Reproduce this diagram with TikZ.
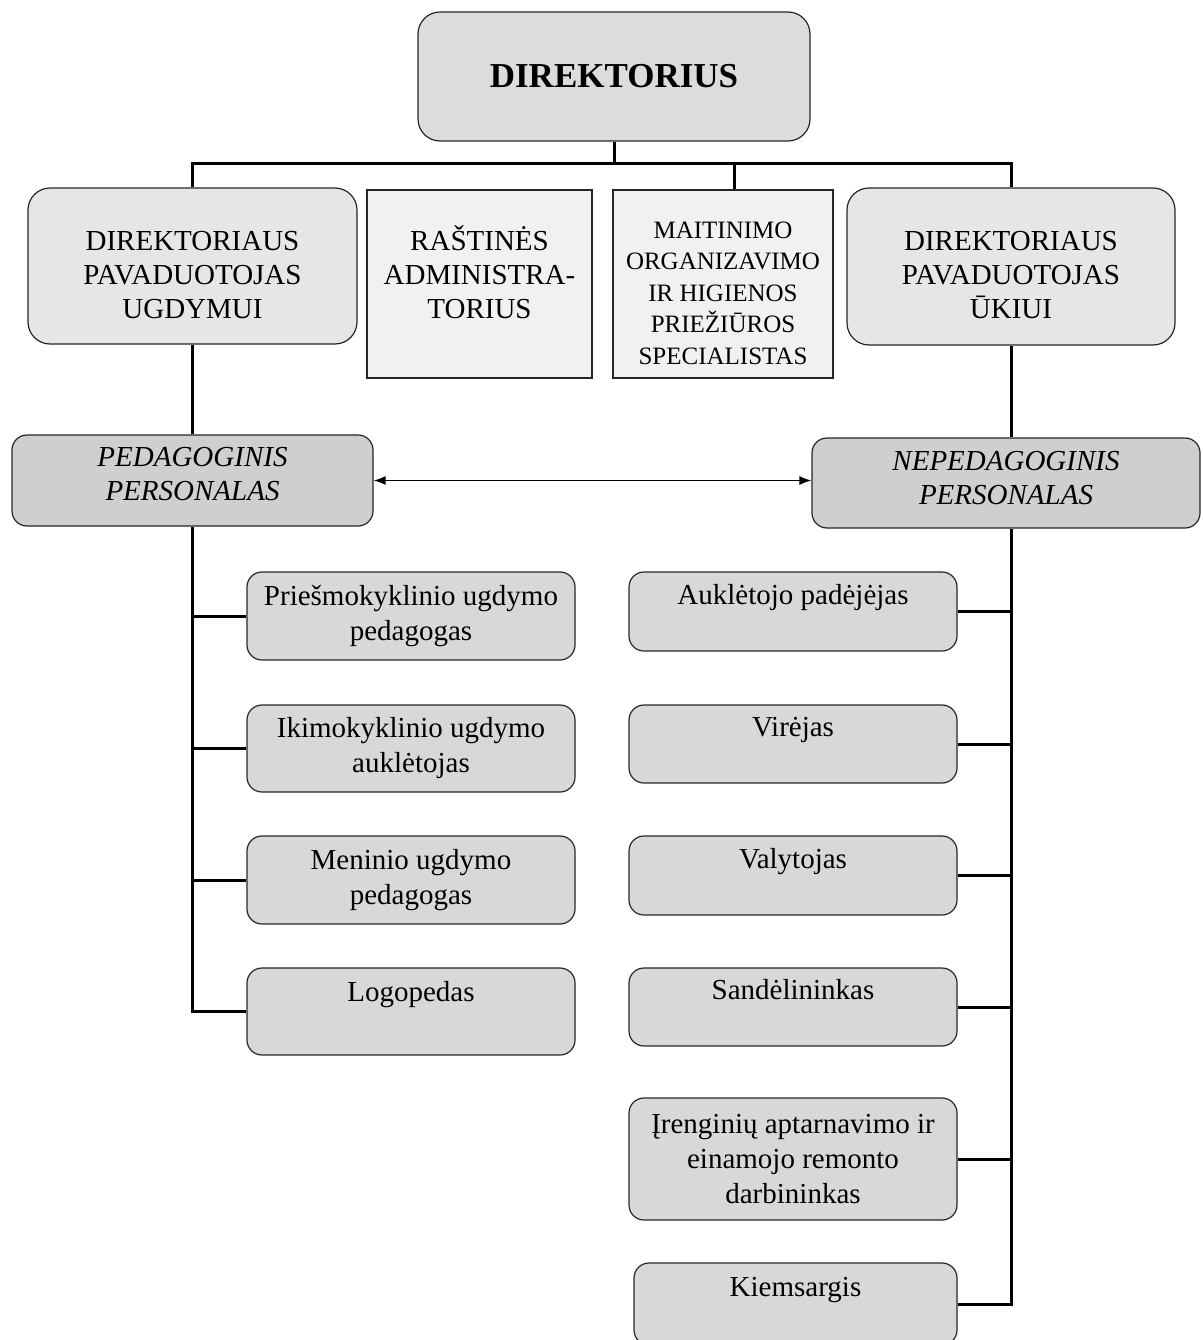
\documentclass[tikz,border=0pt]{standalone}
\usepackage{fontspec}
\setmainfont{Liberation Serif}
\usetikzlibrary{arrows.meta}
\definecolor{dirfill}{HTML}{DCDCDC}
\definecolor{topfill}{HTML}{E6E6E6}
\definecolor{rectfill}{HTML}{F1F1F1}
\definecolor{persfill}{HTML}{CFCFCF}
\definecolor{jobfill}{HTML}{D8D8D8}
\tikzset{
  box/.style={draw=black!85, line width=1.2pt, inner sep=0pt, align=center,
              font=\fontsize{29}{34}\selectfont},
  rbox/.style={box, rounded corners=22pt, fill=topfill},
  sbox/.style={box, fill=rectfill},
  pbox/.style={box, rounded corners=15pt, fill=persfill,
               font=\fontsize{29}{34}\selectfont\itshape},
  jobbox/.style={box, rounded corners=15pt, fill=jobfill, minimum width=328pt,
                 font=\fontsize{29}{35}\selectfont},
  oneline/.style={text height=20pt, text depth=#1},
  oneline/.default=35pt,
  lift/.style={text height=#1, text depth=0pt},
  conn/.style={line width=3pt},
}
\begin{document}
\begin{tikzpicture}[x=1pt,y=-1pt]
\useasboundingbox (0,0) rectangle (1202,1340);
% top level
\node[rbox, fill=dirfill, minimum width=392pt, minimum height=129pt,
      font=\fontsize{35}{40}\selectfont\bfseries] (dir) at (614,76.5) {DIREKTORIUS};
\node[rbox, minimum width=329pt, minimum height=156pt, lift=105pt]
  (pu) at (192.5,266) {DIREKTORIAUS\\PAVADUOTOJAS\\UGDYMUI};
\node[sbox, minimum width=225pt, minimum height=188pt, lift=69pt]
  (rast) at (479.5,284) {RAŠTINĖS\\ADMINISTRA-\\TORIUS};
\node[sbox, minimum width=220pt, minimum height=188pt, lift=160pt,
      font=\fontsize{25}{31.5}\selectfont] (mait) at (723,284)
  {MAITINIMO\\ORGANIZAVIMO\\IR HIGIENOS\\PRIEŽIŪROS\\SPECIALISTAS};
\node[rbox, minimum width=328pt, minimum height=157pt, lift=104pt]
  (pk) at (1011,266.5) {DIREKTORIAUS\\PAVADUOTOJAS\\ŪKIUI};
% personalas
\node[pbox, minimum width=361pt, minimum height=91pt, lift=40pt]
  (ped) at (192.5,480.5) {PEDAGOGINIS\\PERSONALAS};
\node[pbox, minimum width=388pt, minimum height=90pt, lift=43pt]
  (nep) at (1006,483) {NEPEDAGOGINIS\\PERSONALAS};
% pedagoginis
\node[jobbox, minimum height=88pt] (p1) at (411,616)    {Priešmokyklinio ugdymo\\pedagogas};
\node[jobbox, minimum height=87pt] (p2) at (411,748.5)  {Ikimokyklinio ugdymo\\auklėtojas};
\node[jobbox, minimum height=88pt] (p3) at (411,880)    {Meninio ugdymo\\pedagogas};
\node[jobbox, minimum height=87pt, oneline=41pt] (p4) at (411,1011.5) {Logopedas};
% nepedagoginis
\node[jobbox, minimum height=79pt, oneline] (n1) at (793,611.5) {Auklėtojo padėjėjas};
\node[jobbox, minimum height=78pt, oneline] (n2) at (793,744)   {Virėjas};
\node[jobbox, minimum height=79pt, oneline] (n3) at (793,875.5) {Valytojas};
\node[jobbox, minimum height=78pt, oneline] (n4) at (793,1007)  {Sandėlininkas};
\node[jobbox, minimum height=122pt] (n5) at (793,1159)  {Įrenginių aptarnavimo ir\\einamojo remonto\\darbininkas};
\node[jobbox, minimum width=323pt, minimum height=82pt, oneline] (n6) at (795.5,1304) {Kiemsargis};
%
\draw[conn] (dir.south) -- ++(0,21.5) coordinate(bus);
\draw[conn] (pu.north) |- (bus) -| (pk.north);
\draw[conn] ([xshift=11pt]mait.north) -- ([xshift=11pt]mait.north |- bus);
\draw[conn] (pu.south) -- (ped.north);
\draw[conn] (pk.south) -- (pk.south |- nep.north);
\draw[line width=1.3pt, {Latex[length=12pt,width=9pt]}-{Latex[length=12pt,width=9pt]}]
  (ped.east) -- (ped.east -| nep.west);
%
\draw[conn] (ped.south) |- (p4.west);
\foreach \c in {p1,p2,p3}
  \draw[conn] (\c.west) -- (\c.west -| ped.south);
\draw[conn] (nep.south -| pk.south) |- (n6.east);
\foreach \c in {n1,n2,n3,n4,n5}
  \draw[conn] (\c.east) -- (\c.east -| pk.south);
\end{tikzpicture}
\end{document}
